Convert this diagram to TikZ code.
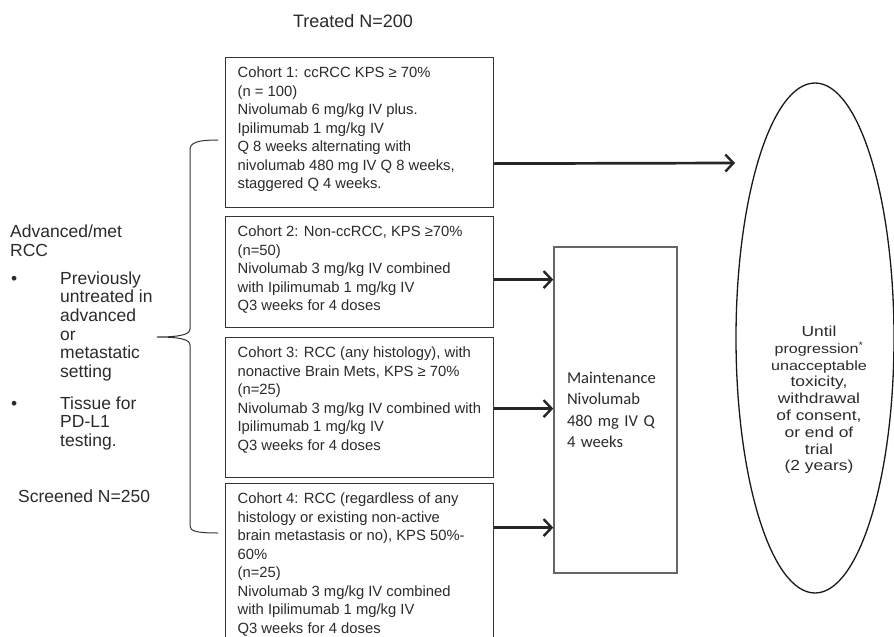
\documentclass[tikz,border=0pt]{standalone}
\usepackage{fontspec}
\setmainfont{Liberation Sans}
\newfontfamily\calib{Carlito}
\newfontfamily\widesans[FakeStretch=1.2]{Liberation Sans}
\usetikzlibrary{arrows.meta,shapes.geometric,calc}
\definecolor{txt}{HTML}{2B2B2B}
\definecolor{boxline}{HTML}{353535}
\definecolor{mline}{HTML}{666666}
\begin{document}
\begin{tikzpicture}[x=1pt,y=-1pt,
  cbox/.style={draw=boxline,line width=1.2pt,anchor=north west,inner xsep=12pt,inner ysep=7pt,text=txt,font=\fontsize{14.8}{18.5}\selectfont},
  lefttxt/.style={text=txt,inner sep=0pt,anchor=base west,font=\fontsize{17.5}{18.7}\selectfont},
  arr/.style={draw=black!85,line width=2.7pt,-{Straight Barb[length=8pt,width=17pt,line width=2.4pt]}},
  maintbox/.style={draw=mline,line width=1.5pt,text=txt,text width=97pt,align=left,inner xsep=13pt,minimum height=326pt,font=\calib\fontsize{16.6}{21.5}\selectfont},
  endell/.style={ellipse,draw=black!90,line width=1.3pt,minimum width=158pt,minimum height=510pt,inner sep=0pt},
  bracepath/.style={draw=black!80,line width=1pt}]
\useasboundingbox (0,0) rectangle (894,637);
\clip (0,0) rectangle (894,637);
\fill[white] (0,0) rectangle (894,637);

% top label
\node[text=txt,font=\fontsize{18}{20}\selectfont] (treated) at (353,21) {Treated N=200};

% cohort boxes
\node[cbox] (c1) at (225,57) {\parbox[t][136pt][t]{244pt}{\raggedright\strut Cohort 1: ccRCC KPS ≥ 70\%\\
(n = 100)\\
Nivolumab 6 mg/kg IV plus.\\
Ipilimumab 1 mg/kg IV\\
Q 8 weeks alternating with\\
nivolumab 480 mg IV Q 8 weeks,\\
staggered Q 4 weeks.}};

\node[cbox] (c2) at (225,216) {\parbox[t][97pt][t]{244pt}{\raggedright\strut Cohort 2: Non-ccRCC, KPS ≥70\%\\
(n=50)\\
Nivolumab 3 mg/kg IV combined\\
with Ipilimumab 1 mg/kg IV\\
Q3 weeks for 4 doses}};

\node[cbox] (c3) at (225,337) {\parbox[t][126pt][t]{244pt}{\raggedright\strut Cohort 3: RCC (any histology), with\\
nonactive Brain Mets, KPS ≥ 70\%\\
(n=25)\\
Nivolumab 3 mg/kg IV combined with\\
Ipilimumab 1 mg/kg IV\\
Q3 weeks for 4 doses}};

\node[cbox] (c4) at (225,483) {\parbox[t][153pt][t]{244pt}{\raggedright\strut Cohort 4: RCC (regardless of any\\
histology or existing non-active\\
brain metastasis or no), KPS 50\%-\\
60\%\\
(n=25)\\
Nivolumab 3 mg/kg IV combined\\
with Ipilimumab 1 mg/kg IV\\
Q3 weeks for 4 doses}};

% maintenance box
\node[maintbox] (maint) at (615.5,410) {Maintenance\\Nivolumab\\480 mg IV Q\\4 weeks};

% end-of-treatment ellipse
\node[endell] (ell) at (815,338) {};
\node[text=txt,align=center,inner sep=0pt,font=\widesans\fontsize{14.5}{16.8}\selectfont] (endtxt) at (819,400)
 {Until\\{\fontsize{13.4}{16.8}\selectfont progression\textsuperscript{*}}\\{\fontsize{13.4}{16.8}\selectfont unacceptable}\\toxicity,\\withdrawal\\of consent,\\or end of\\trial\\ (2 years)};

% left column
\node[lefttxt] (adv) at (10,237.5) {\parbox[t]{170pt}{Advanced/met\\RCC}};
\node[lefttxt] (b1) at (11,284) {\textbullet};
\node[lefttxt] (t1) at (60,284) {\parbox[t]{120pt}{Previously\\untreated in\\advanced\\or\\metastatic\\setting}};
\node[lefttxt] (b2) at (11,409) {\textbullet};
\node[lefttxt] (t2) at (60,409) {\parbox[t]{120pt}{Tissue for\\PD-L1\\testing.}};
\node[lefttxt] (scr) at (18,502) {Screened N=250};

% brace
\path[bracepath] (218,140) .. controls (196,140) and (190,143) .. (190,150)
  -- (190,329) .. controls (190,335) and (178,337) .. (157,337)
  .. controls (178,337) and (190,339) .. (190,345)
  -- (190,526) .. controls (190,531) and (196,533) .. (218,533);

% connectors
\coordinate (p1) at ($(c1.east)+(0,31)$);
\coordinate (e1) at (735,163);
\draw[arr] (p1) -- (e1);
\coordinate (p2) at ($(c2.east)+(0,7.5)$);
\draw[arr] (p2) -- (p2 -| maint.west);
\coordinate (p3) at ($(c3.east)+(0,1)$);
\draw[arr] (p3) -- (p3 -| maint.west);
\coordinate (p4) at ($(c4.east)+(0,-39.5)$);
\draw[arr] (p4) -- (p4 -| maint.west);
\end{tikzpicture}
\end{document}
